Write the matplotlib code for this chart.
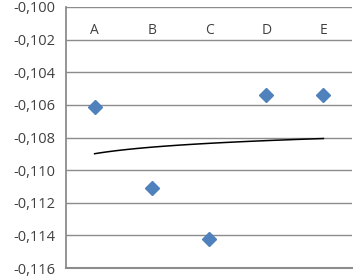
import numpy as np
import matplotlib
matplotlib.use("Agg")
import matplotlib.pyplot as plt
from matplotlib.ticker import FuncFormatter

categories = ["A", "B", "C", "D", "E"]
values = [-0.1061, -0.1111, -0.1142, -0.1054, -0.1054]
y_ticks = np.arange(-0.116, -0.0999, 0.002)

plt.rcParams['font.family'] = ['Open Sans', 'DejaVu Sans']

fig = plt.figure(figsize=(3.53, 2.77), dpi=100)
ax = fig.add_axes([66 / 353, 1 - 268 / 277, 286 / 353, 261 / 277])

x = np.arange(1, len(categories) + 1)

# logarithmic trendline, as Excel draws it
a, b = np.polyfit(np.log(x), values, 1)
xt = np.linspace(1, len(categories), 100)
ax.plot(xt, a * np.log(xt) + b, color="black", lw=1.1, zorder=2)

ax.plot(x, values, "D", color="#4F81BD", markersize=7.3, zorder=3)

ax.set_xlim(0.5, len(categories) + 0.5)
ax.set_ylim(-0.116, -0.100)
ax.set_yticks(y_ticks)
ax.yaxis.set_major_formatter(FuncFormatter(lambda v, p: f"{v:.3f}".replace(".", ",")))
ax.grid(axis="y", color="#8C8C8C", lw=1)
ax.set_axisbelow(True)

ax.xaxis.tick_top()
ax.set_xticks(x)
ax.set_xticklabels(categories)
ax.tick_params(axis="x", length=0, pad=-22, labelsize=10, colors="#404040")
ax.tick_params(axis="y", length=0, pad=8, labelsize=10.5, colors="#404040")

for s in ["top", "right"]:
    ax.spines[s].set_visible(False)
ax.spines["left"].set_color("#8C8C8C")
ax.spines["bottom"].set_color("#8C8C8C")
ax.spines["left"].set_linewidth(1.3)
ax.spines["bottom"].set_linewidth(1.5)

fig.savefig("out.png", dpi=100)
